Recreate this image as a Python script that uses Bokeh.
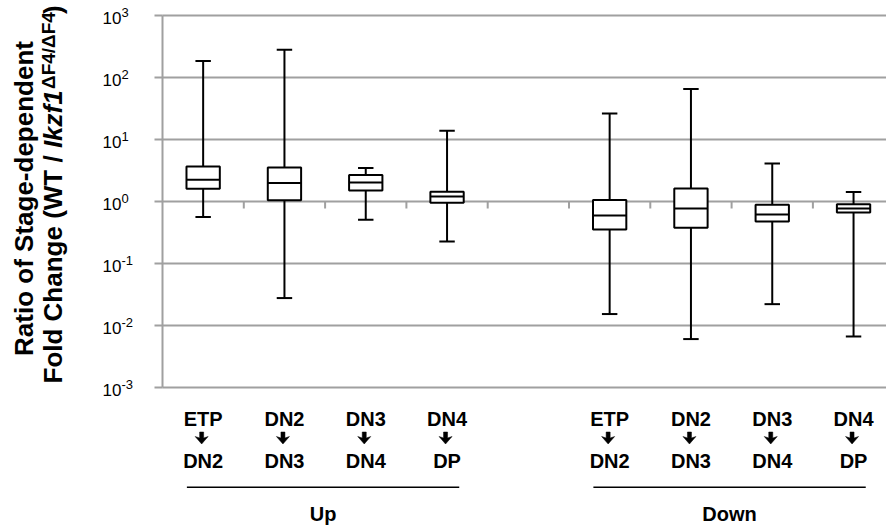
import numpy as np
from bokeh.plotting import figure
from bokeh.models import Range1d, ColumnDataSource
from bokeh.core.properties import value
from bokeh.embed import file_html
from bokeh.resources import INLINE

# ---------------- data ----------------
stages_from = ["ETP", "DN2", "DN3", "DN4"]
stages_to = ["DN2", "DN3", "DN4", "DP"]
group_names = ["Up", "Down"]

up_high = [184, 280, 3.46, 13.8]
up_q3 = [3.67, 3.53, 2.67, 1.43]
up_med = [2.24, 1.98, 2.02, 1.20]
up_q1 = [1.60, 1.05, 1.50, 0.953]
up_low = [0.56, 0.0277, 0.507, 0.226]

down_high = [26.3, 65, 4.10, 1.42]
down_q3 = [1.06, 1.62, 0.885, 0.905]
down_med = [0.594, 0.771, 0.617, 0.772]
down_q1 = [0.353, 0.377, 0.476, 0.667]
down_low = [0.0153, 0.00604, 0.0221, 0.00665]

tick_vals = [1e-3, 1e-2, 1e-1, 1e0, 1e1, 1e2, 1e3]
tick_base = ["10"] * 7
tick_exps = ["-3", "-2", "-1", "0", "1", "2", "3"]

# ---------------- layout / style ----------------
FONT = "Liberation Sans"
GRID = "#a0a0a0"
W, H = 886, 531
AXIS_X = 162.0        # pixel of the y axis (left edge of first category)
CAT_PX = 81.3         # pixels per category slot
ONE_Y = 201.0         # pixel of value 1
DEC_PX = 62.0         # pixels per decade
BFIX = 0.33           # renderer puts alphabetic baselines ~0.33em lower


def dx(px):
    return (px - AXIS_X) / CAT_PX


def dy(py):
    return 10 ** ((ONE_Y - py) / DEC_PX)


n = len(stages_from)
gap = 1
x_up = np.arange(n) + 0.5
x_down = np.arange(n) + n + gap + 0.5
x_all = np.concatenate([x_up, x_down])

box_w = 0.41
cap_w = 0.19

src = ColumnDataSource(dict(
    x=x_all,
    high=up_high + down_high,
    q3=up_q3 + down_q3,
    med=up_med + down_med,
    q1=up_q1 + down_q1,
    low=up_low + down_low,
    l_box=x_all - box_w / 2, r_box=x_all + box_w / 2,
    l_cap=x_all - cap_w / 2, r_cap=x_all + cap_w / 2,
))

x_end = dx(W)
p = figure(width=W, height=H,
           x_range=Range1d(dx(0), x_end),
           y_range=Range1d(dy(H), dy(0)),
           y_axis_type="log", x_axis_location=None, y_axis_location=None,
           output_backend="svg", toolbar_location=None,
           min_border=0, min_border_left=0, min_border_right=0,
           min_border_top=0, min_border_bottom=0)
p.outline_line_color = None
p.background_fill_color = "white"
p.xgrid.visible = False
p.ygrid.visible = False

# ---- y axis (log), gridlines, ticks, tick labels ----
nt = len(tick_vals)
p.segment(x0=[0] * nt, x1=[x_end] * nt, y0=tick_vals, y1=tick_vals,
          line_color=GRID, line_width=2)
p.segment(x0=[0], x1=[0], y0=[tick_vals[0]], y1=[tick_vals[-1]], line_color=GRID, line_width=2)
p.ray(x=[0] * nt, y=tick_vals, length=8, length_units="screen", angle=np.pi,
      line_color=GRID, line_width=2)
p.text(x=[0] * nt, y=tick_vals, text=tick_base, x_offset=-60, y_offset=8.3 - BFIX * 17,
       text_align="left", text_baseline="alphabetic", text_font=value(FONT),
       text_font_size="17px", text_color="black")
p.text(x=[0] * nt, y=tick_vals, text=tick_exps, x_offset=-41, y_offset=1.7 - BFIX * 13,
       text_align="left", text_baseline="alphabetic", text_font=value(FONT),
       text_font_size="13px", text_color="black")

# category boundary ticks hanging below the y = 1 line
bounds = np.arange(1, 2 * n + gap + 1)
p.ray(x=bounds, y=[1] * len(bounds), length=7, length_units="screen",
      angle=-np.pi / 2, line_color=GRID, line_width=2)

# ---- box plots ----
p.segment(x0="x", x1="x", y0="q3", y1="high", source=src, line_color="black", line_width=2)
p.segment(x0="x", x1="x", y0="low", y1="q1", source=src, line_color="black", line_width=2)
p.segment(x0="l_cap", x1="r_cap", y0="high", y1="high", source=src, line_color="black", line_width=2)
p.segment(x0="l_cap", x1="r_cap", y0="low", y1="low", source=src, line_color="black", line_width=2)
p.vbar(x="x", width=box_w, top="q3", bottom="q1", source=src,
       fill_color="white", line_color="black", line_width=2)
p.segment(x0="l_box", x1="r_box", y0="med", y1="med", source=src, line_color="black", line_width=2)

# ---- x category labels ----
bold20 = dict(text_align="center", text_baseline="alphabetic", text_font=value(FONT),
              text_font_style="bold", text_font_size="20px", text_color="black")
fix20 = BFIX * 20
p.text(x=x_all, y=[dy(425 - fix20)] * len(x_all), text=stages_from * 2, **bold20)
p.text(x=x_all, y=[dy(467 - fix20)] * len(x_all), text=stages_to * 2, **bold20)

# bold down arrows between the two stage names
arrow_dx = [-2, 2, 2, 6.5, 0, -6.5, -2]
arrow_py = [431.5, 431.5, 437.5, 436.0, 443.5, 436.0, 437.5]
arr_xs = [[c + (d - 1.5) / CAT_PX for d in arrow_dx] for c in x_all]
arr_ys = [[dy(v) for v in arrow_py] for _ in x_all]
p.patches(xs=arr_xs, ys=arr_ys, fill_color="black", line_color="black", line_width=0.5)

# group brackets and names
gx0 = [x_up[0] - 0.2, x_down[0] - 0.2]
gx1 = [x_up[-1] + 0.15, x_down[-1] + 0.15]
p.segment(x0=gx0, x1=gx1, y0=[dy(486.7)] * 2, y1=[dy(486.7)] * 2, line_color="black", line_width=1.6)
p.text(x=[(a + b) / 2 for a, b in zip(gx0, gx1)], y=[dy(520 - fix20)] * 2, text=group_names, **bold20)

# ---- y axis title (two rotated lines, mixed formatting) ----
rot = np.pi / 2
title_common = dict(angle=rot, text_baseline="alphabetic", text_font=value(FONT), text_color="black")
p.text(x=[dx(32 - BFIX * 26)], y=[dy(198)], text=["Ratio of Stage-dependent"], text_align="center",
       text_font_style="bold", text_font_size="26px", **title_common)
p.text(x=[dx(61 - BFIX * 26)], y=[dy(383)], text=["Fold Change (WT /"], text_align="left",
       text_font_style="bold", text_font_size="26px", **title_common)
p.text(x=[dx(61 - BFIX * 26)], y=[dy(147.6)], text=["Ikzf1"], text_align="left",
       text_font_style="bold italic", text_font_size="26px", **title_common)
p.text(x=[dx(54 - BFIX * 19)], y=[dy(88.5)], text=["\u0394F4/\u0394F4"], text_align="left",
       text_font_style="bold", text_font_size="19px", **title_common)
p.text(x=[dx(61 - BFIX * 26)], y=[dy(13.5)], text=[")"], text_align="left",
       text_font_style="bold", text_font_size="26px", **title_common)

open("out.html", "w").write(file_html(p, INLINE))
